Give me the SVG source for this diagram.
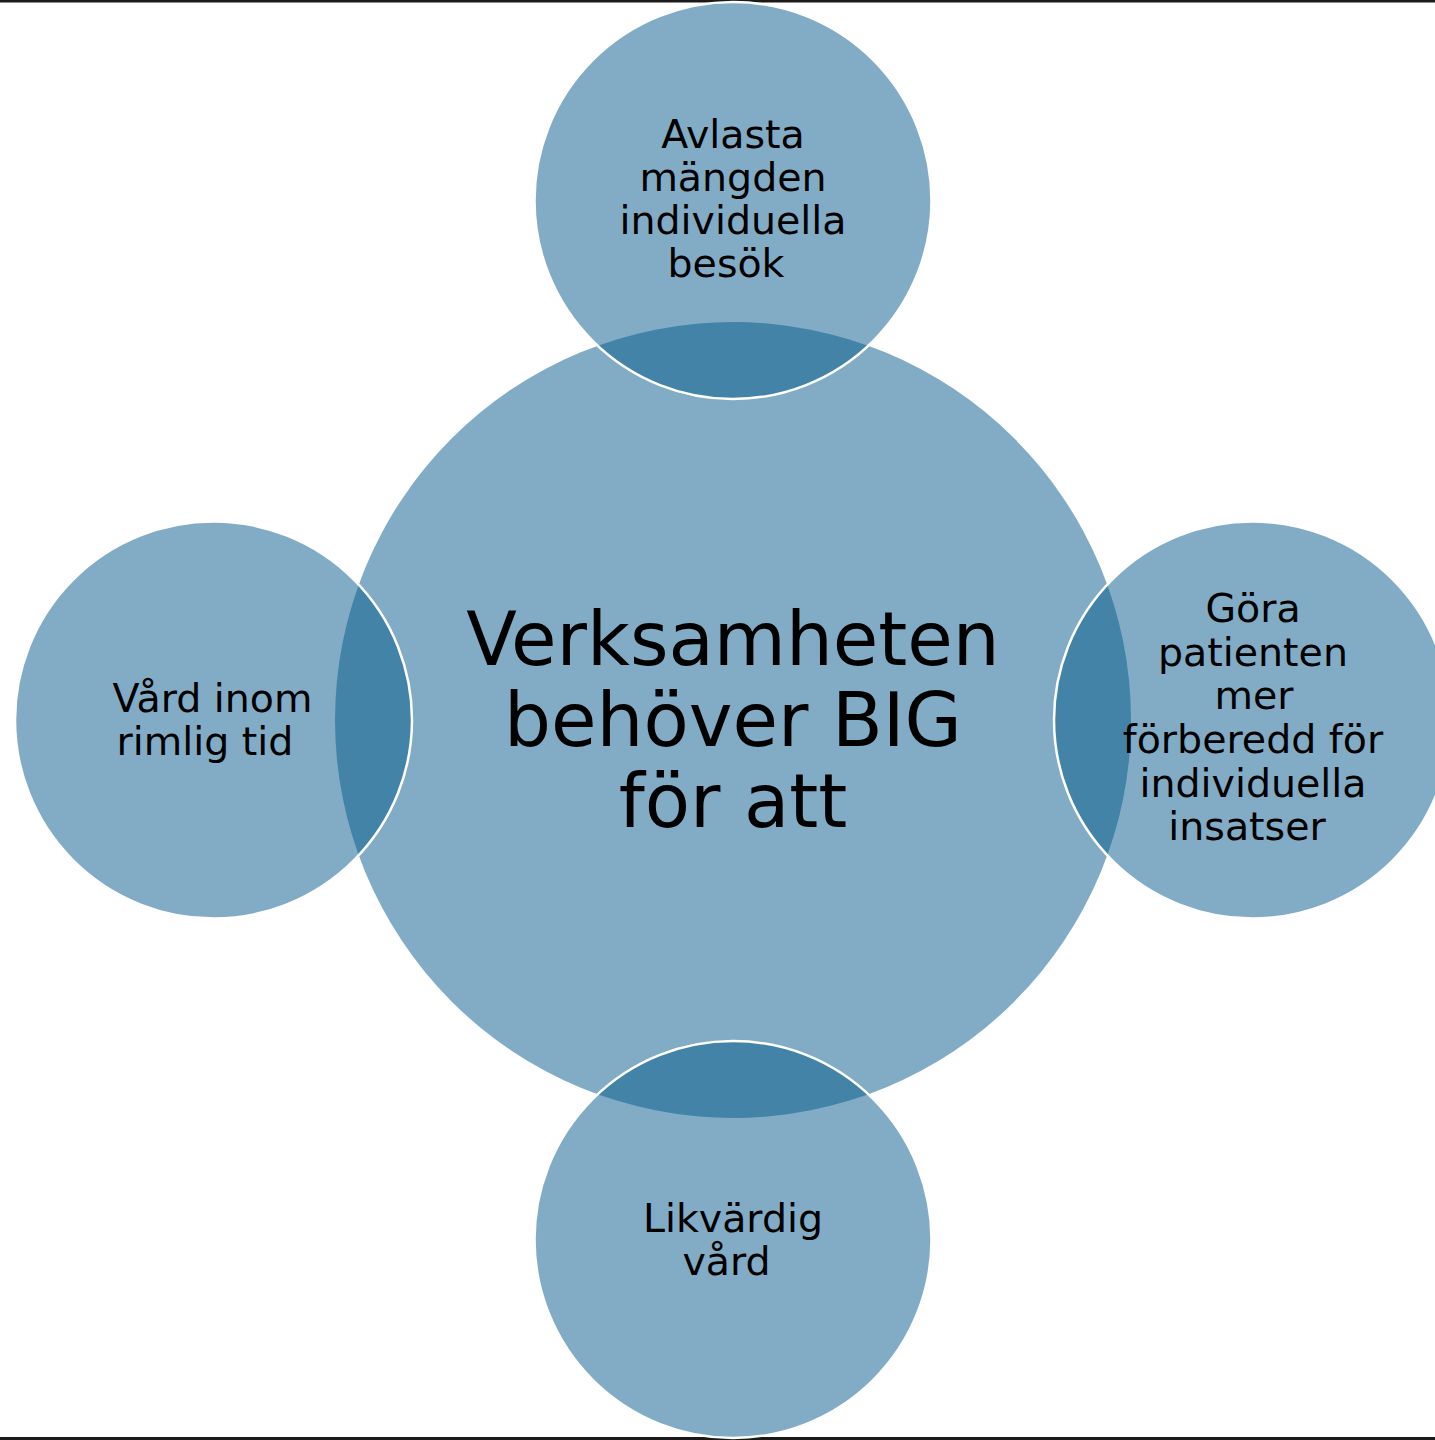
<svg xmlns="http://www.w3.org/2000/svg" width="1435" height="1440" viewBox="0 0 1435 1440">
  <style>
    .c { fill: #05598b; fill-opacity: 0.5; }
    .s { stroke: #ffffff; stroke-width: 2.5; }
    text { font-family: "DejaVu Sans", Verdana, sans-serif; fill: #000000; text-anchor: middle; }
    .big { font-size: 74px; }
    .sm { font-size: 39.5px; }
  </style>
  <rect x="0" y="0" width="1435" height="1440" fill="#ffffff"/>
  <rect x="0" y="0" width="1435" height="2.5" fill="#1a1a1a"/>
  <rect x="0" y="1437" width="1435" height="3" fill="#1a1a1a"/>

  <g id="center">
    <circle class="c" cx="733" cy="720" r="398"/>
    <text class="big"><tspan x="733" y="665">Verksamheten</tspan><tspan x="733" y="746">behöver BIG</tspan><tspan x="733" y="827">för att</tspan></text>
  </g>

  <g id="top">
    <circle class="c s" cx="733" cy="200.5" r="198.5"/>
    <text class="sm"><tspan x="733" y="148">Avlasta</tspan><tspan x="733" y="191">mängden</tspan><tspan x="733" y="234">individuella</tspan><tspan x="726" y="277">besök</tspan></text>
  </g>

  <g id="right">
    <circle class="c s" cx="1252.5" cy="720" r="198.5"/>
    <text class="sm"><tspan x="1253" y="622">Göra</tspan><tspan x="1253" y="666">patienten</tspan><tspan x="1254" y="709">mer</tspan><tspan x="1253" y="753">förberedd för</tspan><tspan x="1253" y="797">individuella</tspan><tspan x="1247" y="840">insatser</tspan></text>
  </g>

  <g id="bottom">
    <circle class="c s" cx="733" cy="1239.5" r="198.5"/>
    <text class="sm"><tspan x="733" y="1232">Likvärdig</tspan><tspan x="726.5" y="1275">vård</tspan></text>
  </g>

  <g id="left">
    <circle class="c s" cx="213.5" cy="720" r="198.5"/>
    <text class="sm"><tspan x="212.5" y="712">Vård inom</tspan><tspan x="205" y="755">rimlig tid</tspan></text>
  </g>

  <g id="connectors"></g>
</svg>
